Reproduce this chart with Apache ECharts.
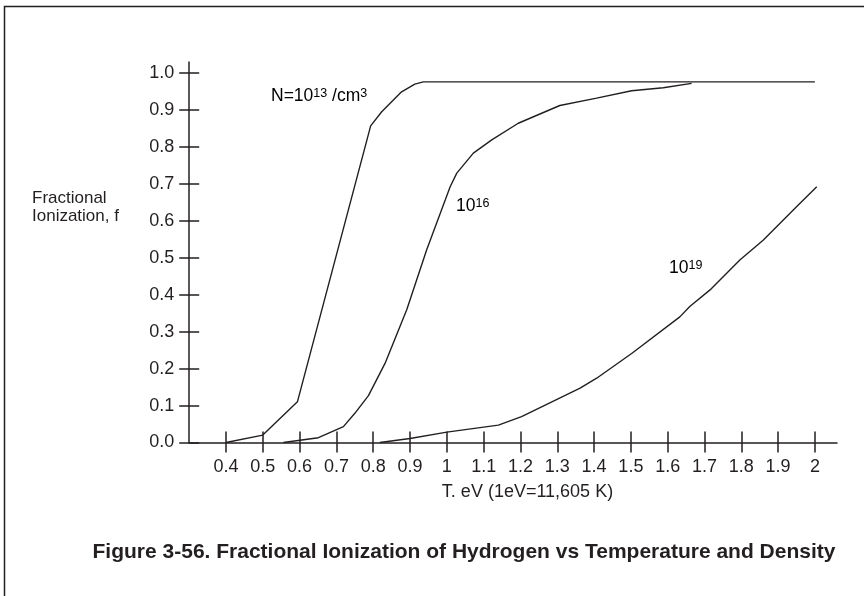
<!DOCTYPE html>
<html>
<head>
<meta charset="utf-8">
<title>Fractional Ionization of Hydrogen</title>
<script src="https://cdn.jsdelivr.net/npm/echarts@6/dist/echarts.min.js"></script>
<style>
  html, body { margin: 0; padding: 0; background: #ffffff; }
  #chart { width: 864px; height: 596px; }
</style>
</head>
<body>
<div id="chart"></div>
<script>
// Temperature (eV) and fractional ionization for each electron density
const tempN13 = [0.4, 0.5, 0.594, 0.793, 0.823, 0.877, 0.913, 0.936, 2.0];
const fracN13 = [0, 0.02, 0.11, 0.857, 0.895, 0.949, 0.97, 0.976, 0.976];

const tempN16 = [0.556, 0.651, 0.719, 0.75, 0.787, 0.832, 0.891, 0.945, 1.009, 1.027, 1.072, 1.122, 1.194, 1.307, 1.407, 1.502, 1.588, 1.665];
const fracN16 = [0, 0.013, 0.043, 0.079, 0.127, 0.214, 0.359, 0.521, 0.692, 0.729, 0.783, 0.819, 0.864, 0.912, 0.932, 0.952, 0.96, 0.972];

const tempN19 = [0.818, 0.9, 1.0, 1.14, 1.203, 1.362, 1.407, 1.502, 1.633, 1.66, 1.715, 1.796, 1.86, 1.95, 2.005];
const fracN19 = [0, 0.011, 0.028, 0.047, 0.07, 0.147, 0.174, 0.241, 0.34, 0.368, 0.413, 0.494, 0.548, 0.638, 0.692];

// Tick positions
const xTicks = [0.4, 0.5, 0.6, 0.7, 0.8, 0.9, 1, 1.1, 1.2, 1.3, 1.4, 1.5, 1.6, 1.7, 1.8, 1.9, 2];
const yTicks = [0, 0.1, 0.2, 0.3, 0.4, 0.5, 0.6, 0.7, 0.8, 0.9, 1.0];

const INK = '#231f20';
const FONT = '"Liberation Sans", Arial, Helvetica, sans-serif';

function pairs(xs, ys) {
  return xs.map((x, i) => [x, ys[i]]);
}

function xLabel(v) {
  return Math.abs(v - Math.round(v)) < 1e-9 ? String(Math.round(v)) : v.toFixed(1);
}

const xRange = { min: 0.3, max: 2.06 };
const yRange = { min: 0, max: 1.03 };

const chart = echarts.init(document.getElementById('chart'), null, { renderer: 'canvas' });

const lineSeries = (data) => ({
  type: 'line',
  data: data,
  xAxisIndex: 0,
  yAxisIndex: 0,
  symbol: 'none',
  smooth: false,
  silent: true,
  lineStyle: { color: INK, width: 1.4 }
});

// Density label with a superscripted exponent
const densityRich = {
  a: { fontSize: 17.5, fontFamily: FONT, color: INK, lineHeight: 18 },
  s: { fontSize: 12.5, fontFamily: FONT, color: INK, lineHeight: 12, verticalAlign: 'top' }
};

chart.setOption({
  backgroundColor: '#ffffff',
  animation: false,
  grid: { left: 189.2, right: 27, top: 61.9, bottom: 153.5, containLabel: false },
  xAxis: [
    {
      type: 'value', position: 'bottom', min: xRange.min, max: xRange.max,
      axisLine: { show: true, onZero: false, lineStyle: { color: INK, width: 1.5 } },
      axisTick: { show: true, customValues: xTicks, length: 10, lineStyle: { color: INK, width: 1.5 } },
      axisLabel: { customValues: xTicks, formatter: xLabel, fontSize: 18, fontFamily: FONT, color: INK, margin: 15.5 },
      splitLine: { show: false }
    },
    {
      type: 'value', position: 'bottom', min: xRange.min, max: xRange.max,
      axisLine: { show: false },
      axisTick: { show: true, inside: true, customValues: xTicks, length: 11, lineStyle: { color: INK, width: 1.5 } },
      axisLabel: { show: false },
      splitLine: { show: false }
    }
  ],
  yAxis: [
    {
      type: 'value', position: 'left', min: yRange.min, max: yRange.max,
      axisLine: { show: true, onZero: false, lineStyle: { color: INK, width: 1.5 } },
      axisTick: { show: true, customValues: yTicks, length: 10, lineStyle: { color: INK, width: 1.5 } },
      axisLabel: { customValues: yTicks, formatter: (v) => v.toFixed(1), fontSize: 18, fontFamily: FONT, color: INK, margin: 15 },
      splitLine: { show: false }
    },
    {
      type: 'value', position: 'left', min: yRange.min, max: yRange.max,
      axisLine: { show: false },
      axisTick: { show: true, inside: true, customValues: yTicks, length: 10, lineStyle: { color: INK, width: 1.5 } },
      axisLabel: { show: false },
      splitLine: { show: false }
    }
  ],
  series: [
    lineSeries(pairs(tempN13, fracN13)),
    lineSeries(pairs(tempN16, fracN16)),
    lineSeries(pairs(tempN19, fracN19))
  ],
  graphic: [
    {
      type: 'rect', silent: true,
      shape: { x: 4.5, y: 6.5, width: 900, height: 700 },
      style: { fill: 'none', stroke: INK, lineWidth: 1.5 }
    },
    {
      type: 'text', silent: true, x: 32, y: 190,
      style: { text: 'Fractional\nIonization, f', font: '17px ' + FONT, fill: INK, lineHeight: 17.5 }
    },
    {
      type: 'text', silent: true, x: 527.5, y: 492,
      style: { text: 'T. eV (1eV=11,605 K)', font: '18px ' + FONT, fill: INK, align: 'center', verticalAlign: 'middle' }
    },
    {
      type: 'text', silent: true, x: 271, y: 87.5,
      style: { text: '{a|N=10}{s|13}{a| /cm}{s|3}', rich: densityRich }
    },
    {
      type: 'text', silent: true, x: 456, y: 197.5,
      style: { text: '{a|10}{s|16}', rich: densityRich }
    },
    {
      type: 'text', silent: true, x: 669, y: 259,
      style: { text: '{a|10}{s|19}', rich: densityRich }
    },
    {
      type: 'text', silent: true, x: 464, y: 552,
      style: {
        text: 'Figure 3-56. Fractional Ionization of Hydrogen vs Temperature and Density',
        font: 'bold 21px ' + FONT, fill: INK, align: 'center', verticalAlign: 'middle'
      }
    }
  ]
});
</script>
</body>
</html>
